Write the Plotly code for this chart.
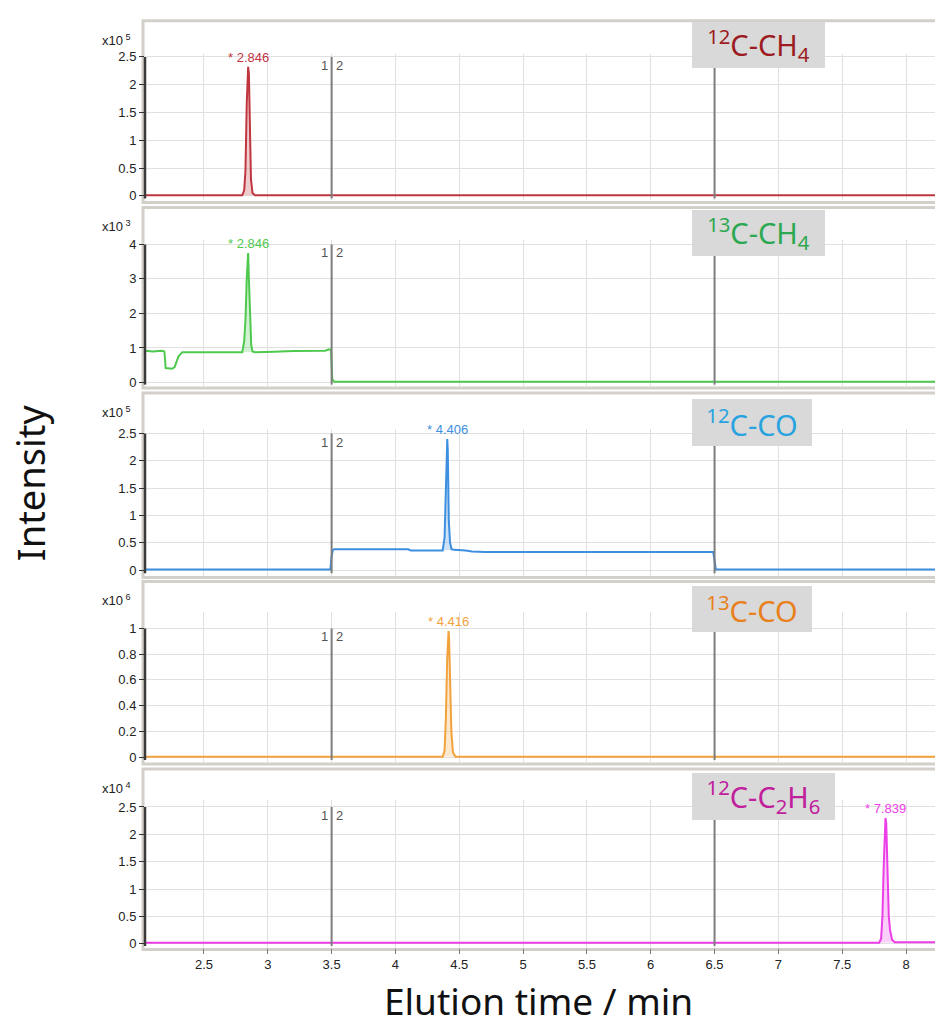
import plotly.graph_objects as go

W, H = 935, 1025

# ---------------- data ----------------
# retention time (min) and intensity (in units of 10^exp) for each channel
t_12ch4 = [2.04, 2.80, 2.815, 2.825, 2.835, 2.842, 2.846, 2.852, 2.86, 2.868, 2.88, 2.90, 8.23]
i_12ch4 = [0.01, 0.01, 0.10, 0.45, 1.65, 2.25, 2.32, 2.20, 0.95, 0.30, 0.05, 0.01, 0.01]

t_13ch4 = [2.04, 2.10, 2.17, 2.19, 2.20, 2.25, 2.27, 2.30, 2.33, 2.80, 2.815, 2.825, 2.835,
           2.842, 2.846, 2.852, 2.86, 2.87, 2.88, 2.90, 3.05, 3.20, 3.45, 3.48, 3.495, 3.505, 3.52, 8.23]
i_13ch4 = [0.92, 0.90, 0.92, 0.90, 0.42, 0.40, 0.45, 0.75, 0.88, 0.88, 1.20, 1.80, 3.00,
           3.70, 3.75, 3.00, 1.80, 1.10, 0.90, 0.88, 0.89, 0.91, 0.92, 0.96, 0.95, 0.10, 0.02, 0.02]

t_12co = [2.04, 3.49, 3.50, 3.51, 3.52, 4.10, 4.12, 4.37, 4.385, 4.395, 4.402, 4.406, 4.41,
          4.418, 4.428, 4.44, 4.46, 4.55, 4.60, 4.70, 6.49, 6.50, 6.51, 8.23]
i_12co = [0.01, 0.01, 0.25, 0.37, 0.38, 0.38, 0.36, 0.36, 0.60, 1.60, 2.30, 2.40, 2.20,
          0.90, 0.50, 0.38, 0.37, 0.36, 0.34, 0.33, 0.33, 0.15, 0.01, 0.01]

t_13co = [2.04, 4.37, 4.385, 4.395, 4.405, 4.412, 4.416, 4.42, 4.428, 4.438, 4.45, 4.47, 8.23]
i_13co = [0.003, 0.003, 0.05, 0.30, 0.75, 0.95, 0.98, 0.93, 0.60, 0.20, 0.04, 0.003, 0.003]

t_12c2h6 = [2.04, 7.79, 7.805, 7.815, 7.825, 7.833, 7.839, 7.845, 7.855, 7.865, 7.875, 7.89, 7.91, 8.23]
i_12c2h6 = [0.02, 0.02, 0.10, 0.50, 1.40, 2.20, 2.30, 2.20, 1.30, 0.50, 0.25, 0.08, 0.03, 0.03]

series_t = [t_12ch4, t_13ch4, t_12co, t_13co, t_12c2h6]
series_i = [i_12ch4, i_13ch4, i_12co, i_13co, i_12c2h6]

channel_names = ["<sup>12</sup>C-CH<sub>4</sub>", "<sup>13</sup>C-CH<sub>4</sub>",
                 "<sup>12</sup>C-CO", "<sup>13</sup>C-CO",
                 "<sup>12</sup>C-C<sub>2</sub>H<sub>6</sub>"]
exponents = [5, 3, 5, 6, 4]
peak_rt = [2.846, 2.846, 4.406, 4.416, 7.839]
peak_window = [(2.80, 2.90), (2.80, 2.90), (4.37, 4.46), (4.37, 4.47), (7.79, 7.91)]

y_ticks = [
    [0, 0.5, 1, 1.5, 2, 2.5],
    [0, 1, 2, 3, 4],
    [0, 0.5, 1, 1.5, 2, 2.5],
    [0, 0.2, 0.4, 0.6, 0.8, 1],
    [0, 0.5, 1, 1.5, 2, 2.5],
]
x_ticks = [2.5, 3, 3.5, 4, 4.5, 5, 5.5, 6, 6.5, 7, 7.5, 8]
x_range = [2.038, 8.227]
event_times = [3.5, 6.5]

# ---------------- styles / layout constants ----------------
line_colors = ["#c0363f", "#4ec94e", "#3d8fe0", "#f2a23c", "#ec3ee6"]
fill_colors = ["rgba(192,54,63,0.25)", "rgba(78,201,78,0.25)", "rgba(61,143,224,0.25)",
               "rgba(242,162,60,0.25)", "rgba(236,62,230,0.25)"]
label_colors = ["#9c1c22", "#2ca850", "#29a3e0", "#e8801c", "#c0209c"]

# pixel geometry per panel: zero line, pixels per unit, grid top, frame top, frame bottom
geom = [
    dict(zero=193.3, ppu=56.0, grid_top=50, frame_top=17, frame_bot=200),
    dict(zero=381.5, ppu=34.8, grid_top=238, frame_top=205, frame_bot=387),
    dict(zero=570.5, ppu=55.0, grid_top=428, frame_top=392, frame_bot=578),
    dict(zero=759.0, ppu=129.7, grid_top=613, frame_top=582, frame_bot=766),
    dict(zero=947.3, ppu=55.2, grid_top=802, frame_top=771, frame_bot=953),
]
box_geom = [  # left, top, width, height in px
    (692, 18, 133, 46), (692, 208, 133, 46), (692, 398, 120, 47),
    (692, 587, 120, 46), (692, 775, 143, 47),
]
PLOT_LEFT = 145

TICK_FONT = dict(family="Liberation Sans, Arial, sans-serif", size=13, color="#222222")

fig = go.Figure()
layout = dict(
    width=W, height=H, margin=dict(l=0, r=0, t=0, b=0),
    paper_bgcolor="white", plot_bgcolor="white", showlegend=False,
)
shapes = []
annotations = []

for k in range(5):
    g = geom[k]
    xs = "" if k == 0 else str(k + 1)
    xname, yname = "x" + xs, "y" + xs
    y_lo = -(g["frame_bot"] - 2 - g["zero"]) / g["ppu"]
    y_hi = (g["zero"] - g["grid_top"]) / g["ppu"]
    top_tick = y_ticks[k][-1]

    layout["xaxis" + xs] = dict(
        domain=[PLOT_LEFT / W, 1], range=x_range, tickvals=x_ticks,
        ticktext=[f"{v:g}" for v in x_ticks],
        showgrid=True, gridcolor="#e0e0e0", gridwidth=1, zeroline=False, showline=False,
        showticklabels=(k == 4), ticks="outside" if k == 4 else "", ticklen=5,
        tickcolor="#777777", tickfont=TICK_FONT, anchor=yname,
        **({} if k == 0 else dict(matches="x")),
    )
    layout["yaxis" + xs] = dict(
        domain=[1 - (g["frame_bot"] - 2) / H, 1 - g["grid_top"] / H],
        range=[y_lo, y_hi], tickvals=y_ticks[k], ticktext=[f"{v:g}" for v in y_ticks[k]],
        showgrid=True, gridcolor="#e0e0e0", gridwidth=1, zeroline=False, showline=False,
        ticks="outside", ticklen=5, tickcolor="#333333", tickwidth=1, tickfont=TICK_FONT,
        anchor=xname,
    )

    # peak fill
    lo, hi = peak_window[k]
    px = [t for t in series_t[k] if lo <= t <= hi]
    py = [v for t, v in zip(series_t[k], series_i[k]) if lo <= t <= hi]
    fig.add_trace(go.Scatter(x=px, y=py, xaxis=xname, yaxis=yname, mode="lines",
                             fill="toself", fillcolor=fill_colors[k],
                             line=dict(width=0), hoverinfo="skip"))
    # chromatogram
    fig.add_trace(go.Scatter(x=series_t[k], y=series_i[k], xaxis=xname, yaxis=yname,
                             mode="lines", line=dict(color=line_colors[k], width=2),
                             hoverinfo="skip"))

    # frame
    shapes.append(dict(type="rect", xref="paper", yref="paper",
                       x0=(PLOT_LEFT - 2) / W, x1=1.002,
                       y0=1 - g["frame_bot"] / H, y1=1 - g["frame_top"] / H,
                       line=dict(color="#d3cfc9", width=3), layer="below"))
    # dark y axis line
    shapes.append(dict(type="line", xref=xname + " domain", yref=yname,
                       x0=0, x1=0, y0=y_lo * 0.6, y1=top_tick,
                       line=dict(color="#3a3a3a", width=2.5), layer="above"))
    # event lines
    for et in event_times:
        shapes.append(dict(type="line", xref=xname, yref=yname, x0=et, x1=et,
                           y0=y_lo * 0.6, y1=top_tick,
                           line=dict(color="#7d7d7d", width=2), layer="above"))
    # "1|2" label
    annotations.append(dict(xref=xname, yref=yname, x=event_times[0], y=top_tick,
                            text="1", showarrow=False, xanchor="right", yanchor="top",
                            xshift=-2, yshift=1, font=dict(family=TICK_FONT["family"], size=13, color="#555555")))
    annotations.append(dict(xref=xname, yref=yname, x=event_times[0], y=top_tick,
                            text="2", showarrow=False, xanchor="left", yanchor="top",
                            xshift=2, yshift=1, font=dict(family=TICK_FONT["family"], size=13, color="#555555")))
    # peak label
    annotations.append(dict(xref=xname, yref=yname, x=peak_rt[k], y=max(series_i[k]),
                            text=f"* {peak_rt[k]:.3f}", showarrow=False,
                            xanchor="center", yanchor="bottom", yshift=0,
                            font=dict(family=TICK_FONT["family"], size=13, color=line_colors[k])))
    # exponent label
    annotations.append(dict(xref="paper", yref="paper", x=133 / W, y=1 - (g["frame_top"] + 19) / H,
                            text=f"x10<sup> {exponents[k]}</sup>", showarrow=False,
                            xanchor="right", yanchor="middle",
                            font=dict(family=TICK_FONT["family"], size=13, color="#222222")))
    # channel label box
    bl, bt, bw, bh = box_geom[k]
    annotations.append(dict(xref="paper", yref="paper", x=bl / W, y=1 - bt / H,
                            xanchor="left", yanchor="top", width=bw, height=bh,
                            borderpad=0, borderwidth=0, bgcolor="#d9d9d9",
                            text=channel_names[k], showarrow=False, align="center",
                            valign="middle",
                            font=dict(family="Noto Sans, sans-serif", size=29, color=label_colors[k])))

# axis titles
annotations.append(dict(xref="paper", yref="paper", x=30 / W, y=1 - 483 / H,
                        text="Intensity", textangle=-90, showarrow=False,
                        xanchor="center", yanchor="middle",
                        font=dict(family="Noto Sans, sans-serif", size=38, color="#111111")))
annotations.append(dict(xref="paper", yref="paper", x=538 / W, y=1 - 1004 / H,
                        text="Elution time / min", showarrow=False,
                        xanchor="center", yanchor="middle",
                        font=dict(family="Noto Sans, sans-serif", size=37, color="#111111")))

layout["shapes"] = shapes
layout["annotations"] = annotations
fig.update_layout(**layout)
fig.write_html("out.html")
